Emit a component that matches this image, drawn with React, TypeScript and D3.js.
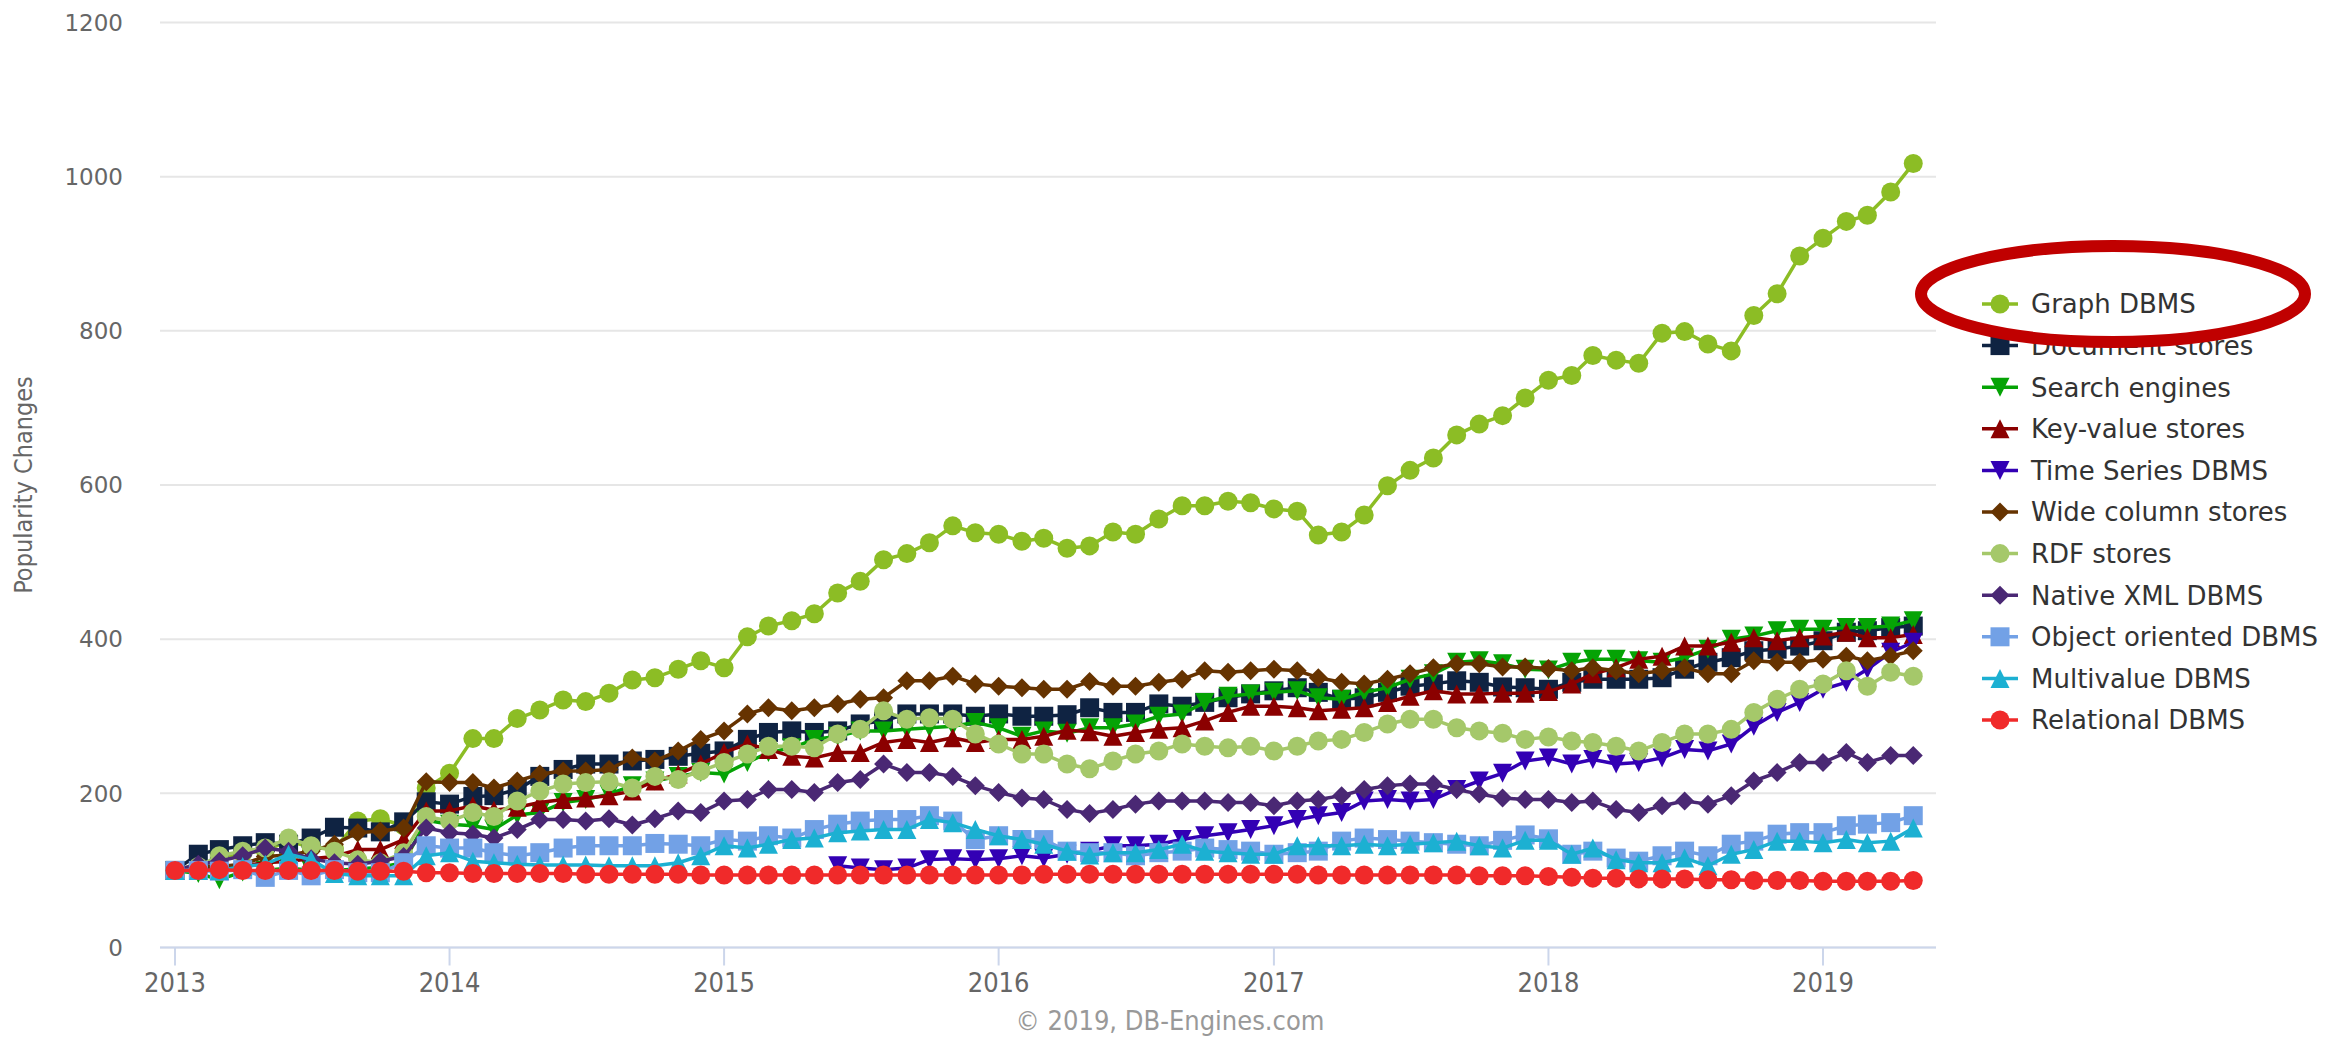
import React from 'react';
import * as d3 from 'd3';

// monthly points, Jan 2013 .. May 2019
const months: Date[] = d3.timeMonth.range(new Date(2013, 0, 1), new Date(2019, 5, 1));

const graphDbms = [100, 108, 115, 122, 126, 138, 130, 128, 164, 167, 158, 207, 226,
  271, 271, 297, 308, 321, 319, 330, 347, 350, 361, 372, 363,
  403, 417, 424, 433, 460, 475, 503, 511, 525, 547, 538, 536,
  527, 531, 518, 521, 539, 536, 556, 573, 573, 579, 577, 569,
  566, 535, 539, 561, 599, 619, 635, 665, 679, 690, 713, 736,
  742, 768, 762, 758, 797, 799, 783, 774, 820, 848, 897, 920,
  942, 950, 980, 1017];

const documentStores = [100, 121, 127, 132, 136, 134, 142, 156, 155, 150, 163,
  189, 186, 196, 197, 205, 222, 231, 238, 238, 242, 244,
  248, 252, 255, 270, 279, 281, 279, 281, 290, 294, 303, 303, 303, 300, 303, 300, 300, 302, 311,
  305, 305, 316, 313, 318, 324, 329, 333, 337, 331, 322, 324, 331, 339, 342, 346, 344, 338, 337, 335,
  344, 348, 348, 348, 350, 361, 370, 376, 385, 387, 391, 398, 409, 411, 415, 417];

const searchEngines = [100, 96, 88, 98, 100, 103, 100, 100, 102, 104, 110,
  165, 160, 158, 153, 172, 175, 188, 192, 199, 210, 216,
  222, 227, 225, 240, 253, 259, 270, 274, 281, 281, 283, 285, 287, 292, 285, 274, 281, 278, 285,
  285, 290, 300, 303, 318, 326, 329, 331, 333, 324, 322, 331, 337, 348, 355, 370, 372, 368, 361, 360,
  370, 374, 374, 372, 370, 376, 387, 400, 404, 411, 413, 413, 415, 415, 417, 424];

const keyValueStores = [100, 104, 103, 106, 110, 112, 115, 118, 127, 127, 140,
  177, 177, 184, 178, 182, 188, 192, 194, 197, 203, 216,
  225, 238, 253, 264, 257, 248, 246, 253, 253, 266, 270, 266, 272, 266, 270, 270, 274, 282, 280,
  274, 279, 283, 285, 294, 305, 313, 313, 311, 307, 309, 311, 318, 326, 333, 329, 329, 330, 330, 332,
  342, 355, 363, 374, 378, 391, 391, 396, 402, 398, 402, 404, 409, 402, 402, 406];

const timeSeriesDbms: (number | null)[] = [
  null, null, null, null, null, null, null, null, null, null, null, null,
  null, null, null, null, null, null, null, null, null, null, null, null,
  null, null, null, null, null,
  106, 103, 101, 103, 114, 115, 114, 115, 119, 116, 121, 125,
  132, 132, 134, 140, 145, 149, 153, 158, 166, 171, 175, 190, 192, 190, 192, 205, 216, 226, 242, 246,
  238, 244, 238, 240, 246, 257, 255, 264, 287, 305, 318, 335, 344, 361, 383, 396];

const wideColumnStores = [100, 106, 105, 108, 118, 120, 125, 134, 149, 151, 155,
  215, 214, 214, 207, 216, 225, 229, 229, 231, 246, 242,
  255, 270, 281, 303, 311, 307, 311, 316, 322, 324, 346, 346, 352, 342, 339, 337, 335, 335, 345,
  339, 339, 344, 348, 359, 357, 359, 361, 359, 350, 344, 342, 348, 355, 363, 368, 368, 364, 364, 362,
  359, 363, 359, 355, 359, 363, 355, 355, 372, 370, 370, 374, 378, 372, 378, 385];

const rdfStores = [100, 105, 119, 125, 129, 142, 132, 125, 114, 110, 123,
  170, 164, 175, 170, 190, 203, 212, 214, 215, 207, 222,
  218, 229, 240, 251, 261, 261, 259, 277, 283, 307, 296, 298, 296, 277, 264, 251, 251, 238, 232,
  242, 251, 255, 264, 261, 259, 261, 255, 261, 268, 270, 279, 290, 296, 296, 285, 281, 278, 270, 273,
  268, 266, 261, 255, 266, 277, 277, 283, 305, 322, 335, 342, 359, 339, 357, 352];

const nativeXmlDbms = [100, 108, 112, 119, 129, 125, 115, 110, 108, 112, 118,
  155, 149, 147, 142, 153, 166, 166, 164, 167, 159, 167,
  177, 175, 190, 192, 205, 205, 201, 214, 218, 238, 227, 227, 222, 210, 201, 194, 192, 179, 174,
  179, 186, 190, 190, 190, 188, 188, 184, 190, 192, 197, 205, 210, 212, 212, 205, 199, 194, 192, 192,
  188, 190, 179, 175, 184, 190, 186, 197, 216, 227, 240, 240, 253, 240, 249, 249];

const objectOrientedDbms = [100, 100, 99, 101, 91, 100, 93, 101, 97, 97, 110,
  132, 129, 129, 123, 119, 123, 129, 132, 132, 132, 135,
  134, 132, 140, 138, 145, 142, 153, 160, 164, 166, 166, 171, 164, 140, 145, 140, 140, 125, 123,
  123, 119, 123, 125, 129, 127, 125, 121, 123, 125, 138, 142, 140, 138, 136, 134, 132, 139, 146, 141,
  121, 125, 116, 112, 119, 125, 119, 134, 138, 147, 149, 149, 158, 160, 162, 171];

const multivalueDbms = [100, 100, 100, 105, 108, 121, 114, 96, 93, 93, 93,
  119, 123, 112, 110, 108, 107, 107, 107, 106, 106, 106,
  110, 119, 132, 129, 134, 140, 142, 149, 151, 153, 153, 166, 162, 153, 145, 140, 134, 125, 120,
  123, 123, 127, 134, 125, 123, 121, 121, 132, 132, 132, 134, 132, 134, 136, 138, 132, 129, 139, 139,
  121, 129, 114, 110, 110, 116, 106, 121, 127, 138, 138, 136, 140, 136, 138, 155];

const relationalDbms = [100, 100, 101, 100, 100, 100, 100, 100, 99, 99, 99,
  97, 97, 96, 96, 96, 96, 96, 95, 95, 95, 95, 95, 94,
  94, 94, 94, 94, 94, 94, 94, 94, 94, 94, 94, 94,
  94, 94, 95, 95, 95, 95, 95, 95, 95, 95, 95, 95,
  95, 95, 94, 94, 94, 94, 94, 94, 94, 93, 93, 93,
  92, 91, 90, 90, 89, 89, 89, 88, 88, 87, 87, 87,
  86, 86, 86, 86, 87];

const yTicks = [0, 200, 400, 600, 800, 1000, 1200];

type Sym = 'circle' | 'square' | 'triangle' | 'triangle-down' | 'diamond';

interface Series {
  name: string;
  color: string;
  symbol: Sym;
  data: (number | null)[];
}

const series: Series[] = [
  { name: 'Graph DBMS', color: '#8cbd25', symbol: 'circle', data: graphDbms },
  { name: 'Document stores', color: '#0f2342', symbol: 'square', data: documentStores },
  { name: 'Search engines', color: '#05a305', symbol: 'triangle-down', data: searchEngines },
  { name: 'Key-value stores', color: '#8b0000', symbol: 'triangle', data: keyValueStores },
  { name: 'Time Series DBMS', color: '#3300b4', symbol: 'triangle-down', data: timeSeriesDbms },
  { name: 'Wide column stores', color: '#663300', symbol: 'diamond', data: wideColumnStores },
  { name: 'RDF stores', color: '#a5c86a', symbol: 'circle', data: rdfStores },
  { name: 'Native XML DBMS', color: '#4a2874', symbol: 'diamond', data: nativeXmlDbms },
  { name: 'Object oriented DBMS', color: '#72a1e6', symbol: 'square', data: objectOrientedDbms },
  { name: 'Multivalue DBMS', color: '#1cb0d2', symbol: 'triangle', data: multivalueDbms },
  { name: 'Relational DBMS', color: '#f02a2a', symbol: 'circle', data: relationalDbms },
];

const W = 2349;
const H = 1037;
const plot = { left: 160, right: 1936, top: 22.5, bottom: 947.5 };
const R = 9.5;

const x = d3.scaleTime()
  .domain([new Date(2013, 0, 1), new Date(2019, 0, 1)])
  .range([175, 1823]);
const y = d3.scaleLinear().domain([0, 1200]).range([plot.bottom, plot.top]);

function markerPath(sym: Sym, cx: number, cy: number, r: number): string {
  switch (sym) {
    case 'square':
      return `M${cx - r},${cy - r}h${2 * r}v${2 * r}h${-2 * r}Z`;
    case 'triangle':
      return `M${cx},${cy - r}L${cx + r},${cy + r}L${cx - r},${cy + r}Z`;
    case 'triangle-down':
      return `M${cx - r},${cy - r}L${cx + r},${cy - r}L${cx},${cy + r}Z`;
    case 'diamond':
      return `M${cx},${cy - r}L${cx + r},${cy}L${cx},${cy + r}L${cx - r},${cy}Z`;
    default:
      return `M${cx - r},${cy}a${r},${r} 0 1,0 ${2 * r},0a${r},${r} 0 1,0 ${-2 * r},0`;
  }
}

const labelFont = '"DejaVu Sans Condensed", "DejaVu Sans", sans-serif';

const App: React.FC = () => {
  const line = d3.line<number | null>()
    .defined(d => d !== null)
    .x((_, i) => x(months[i]))
    .y(d => y(d as number));

  const years = x.ticks(d3.timeYear.every(1) as any);

  const legendX = 1982;
  const legendY0 = 304;
  const legendStep = 41.6;

  return (
    <svg width={W} height={H} style={{ position: 'absolute', left: 0, top: 0, background: '#fff' }}>
      {/* grid */}
      {yTicks.map(t => (
        <line key={t} x1={plot.left} x2={plot.right} y1={y(t)} y2={y(t)} stroke="#e6e6e6" strokeWidth={2} />
      ))}
      {yTicks.map(t => (
        <text key={'yl' + t} x={123} y={y(t)} dy="0.36em" textAnchor="end" fill="#666"
          style={{ font: '23px "DejaVu Sans", sans-serif' }}>{t}</text>
      ))}
      <text transform={`translate(32,${(plot.top + plot.bottom) / 2}) rotate(-90)`} textAnchor="middle"
        fill="#666" style={{ font: `25px ${labelFont}` }}>Popularity Changes</text>

      {/* x axis */}
      <line x1={plot.left} x2={plot.right} y1={plot.bottom} y2={plot.bottom} stroke="#ccd6eb" strokeWidth={2} />
      {years.map(d => (
        <g key={d.getFullYear()}>
          <line x1={x(d)} x2={x(d)} y1={plot.bottom} y2={plot.bottom + 18} stroke="#ccd6eb" strokeWidth={2} />
          <text x={x(d)} y={plot.bottom + 44} textAnchor="middle" fill="#666"
            style={{ font: `27px ${labelFont}` }}>{d.getFullYear()}</text>
        </g>
      ))}

      {/* series */}
      {series.map(s => (
        <g key={s.name}>
          <path d={line(s.data) || ''} fill="none" stroke={s.color} strokeWidth={3.5} strokeLinejoin="round" />
          {s.data.map((v, i) => v === null ? null : (
            <path key={i} d={markerPath(s.symbol, x(months[i]), y(v), R)} fill={s.color} />
          ))}
        </g>
      ))}

      {/* legend */}
      {series.map((s, i) => {
        const ly = legendY0 + i * legendStep;
        return (
          <g key={'lg' + s.name}>
            <line x1={legendX} x2={legendX + 36} y1={ly} y2={ly} stroke={s.color} strokeWidth={3.5} />
            <path d={markerPath(s.symbol, legendX + 18, ly, R)} fill={s.color} />
            <text x={2031} y={ly} dy="0.36em" fill="#333" style={{ font: '26px "DejaVu Sans", sans-serif' }}>{s.name}</text>
          </g>
        );
      })}

      {/* highlight */}
      <ellipse cx={2113} cy={294} rx={192} ry={48} fill="none" stroke="#c00000" strokeWidth={12} />

      <text x={1170} y={1030} textAnchor="middle" fill="#999" style={{ font: `27px ${labelFont}` }}>
        © 2019, DB-Engines.com
      </text>
    </svg>
  );
};

export default App;
